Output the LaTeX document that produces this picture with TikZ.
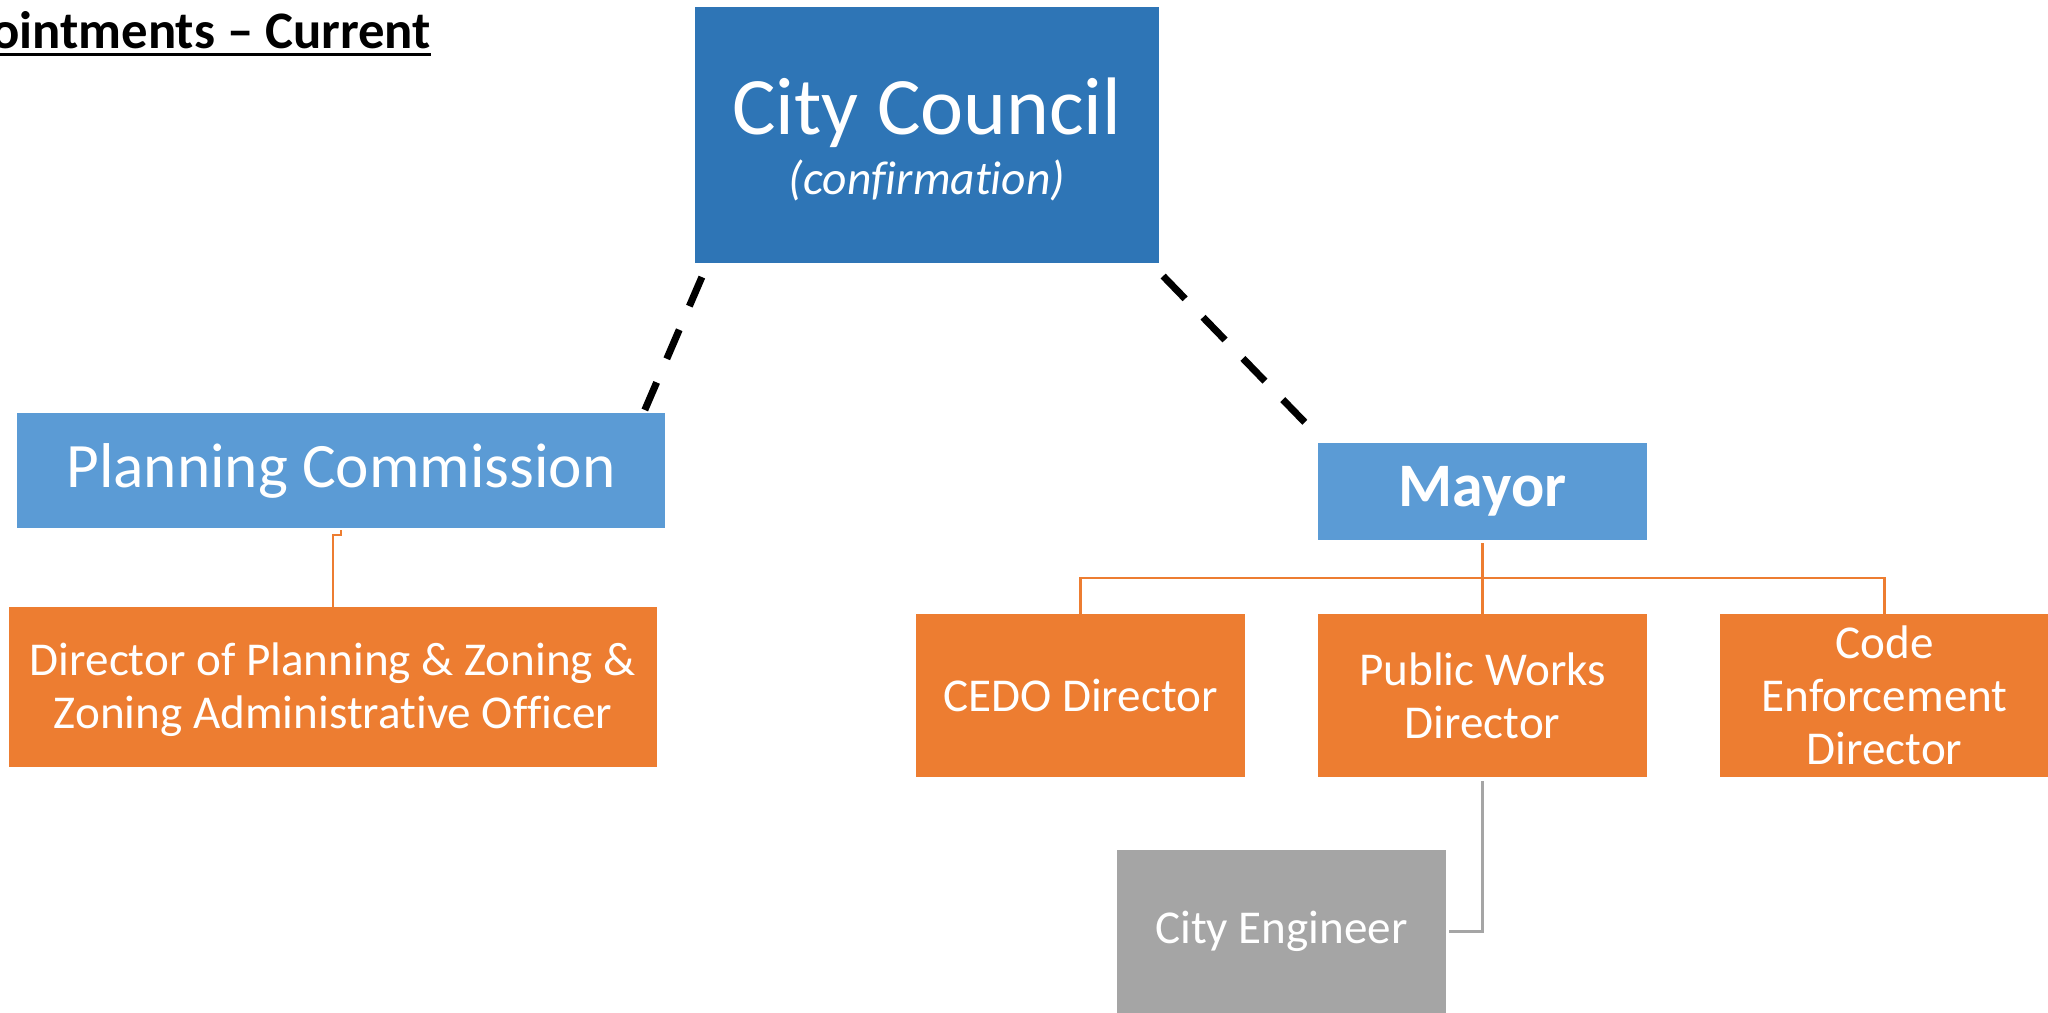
\documentclass[tikz,border=0pt]{standalone}
\usepackage{fontspec}
\setmainfont{Carlito}[Ligatures=NoCommon]
\definecolor{ccblue}{HTML}{2E75B6}
\definecolor{ltblue}{HTML}{5B9BD5}
\definecolor{orng}{HTML}{ED7D31}
\definecolor{gry}{HTML}{A5A5A5}
\tikzset{
  boxnode/.style={draw=none, inner sep=0pt, outer sep=0pt, text=white, align=center},
  txtnode/.style={inner sep=0pt, outer sep=0pt, text=white},
  smallfont/.style={font=\fontsize{13.4}{15.1}\selectfont},
  orangebox/.style={boxnode, fill=orng, smallfont, minimum width=3.29cm, minimum height=1.63cm},
  orline/.style={draw=orng, line width=0.8pt},
  grline/.style={draw=gry, line width=0.8pt},
  dashline/.style={draw=black, line width=2pt, dash pattern=on 9pt off 7.3pt}
}
\begin{document}
\begin{tikzpicture}[x=0.01cm, y=-0.01cm]
\clip (0,0) rectangle (2048,1013);
\fill[white] (0,0) rectangle (2048,1013);

% title
\node[inner sep=0pt, outer sep=0pt, anchor=base east, font=\fontsize{15}{18}\bfseries\selectfont] (title) at (431,49) {Appointments – Current};
\draw[line width=0.85pt] ([shift={(0,5.5)}]title.base west) -- ([shift={(0,5.5)}]title.base east);

% City Council
\node[boxnode, fill=ccblue, minimum width=4.64cm, minimum height=2.56cm] (cc) at (927,135) {};
\node[txtnode, anchor=base, font=\fontsize{23.2}{28}\selectfont] (cctitle) at (927,135) {City Council};
\node[txtnode, anchor=base, font=\fontsize{13.5}{16}\itshape\selectfont] (ccsub) at (927,195) {(confirmation)};

% Planning Commission
\node[boxnode, fill=ltblue, minimum width=6.48cm, minimum height=1.15cm, font=\fontsize{18}{22}\selectfont] (pc) at (341,470.5) {\raisebox{-1.1pt}{Planning Commission}};

% Director of planning
\node[boxnode, fill=orng, minimum width=6.48cm, minimum height=1.60cm] (dir) at (333,687) {};
\node[txtnode, align=center, smallfont] (dirtext) at (333,690) {Director of Planning \& Zoning \&\\Zoning Administrative Officer};

% Mayor
\node[boxnode, fill=ltblue, minimum width=3.29cm, minimum height=0.97cm, font=\fontsize{17.6}{21}\bfseries\selectfont] (mayor) at (1482.5,491.5) {\raisebox{-1.3pt}{Mayor}};

% Directors under mayor
\node[orangebox] (cedo) at (1080.5,695.5) {CEDO Director};
\node[orangebox] (pw) at (1482.5,695.5) {Public Works\\Director};
\node[orangebox] (ce) at (1884.5,695.5) {Code\\Enforcement\\Director};

% City engineer
\node[boxnode, fill=gry, minimum width=3.29cm, minimum height=1.63cm, smallfont] (eng) at (1281.5,931.5) {City Engineer};

% dashed connectors
\draw[dashline] ([shift={(7,14)}]cc.south west) -- ([shift={(628,-3)}]pc.north west);
\draw[dashline] ([shift={(4,13)}]cc.south east) -- ([shift={(4,-3)}]mayor.north west);

% planning commission connector
\coordinate (pcj) at ([shift={(0,7)}]pc.south);
\draw[orline] ([shift={(0,2)}]pc.south) -- (pcj) -- (pcj -| dir.north) -- (dir.north);

% mayor connectors
\coordinate (mbus) at (1482.5,578);
\draw[orline] ([shift={(0,3)}]mayor.south) -- (mayor.south |- mbus);
\draw[orline] (cedo.north) -- (cedo.north |- mbus) -- (ce.north |- mbus) -- (ce.north);
\draw[orline] (pw.north) -- (pw.north |- mbus);

% city engineer connector
\draw[grline] ([shift={(0,4)}]pw.south) |- ([shift={(3,0)}]eng.east);
\end{tikzpicture}
\end{document}
